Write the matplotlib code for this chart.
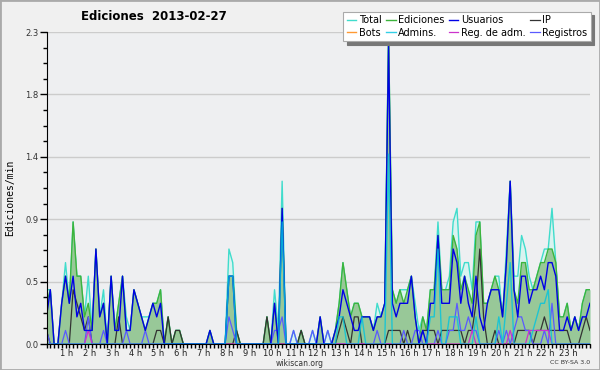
import matplotlib
matplotlib.use('Agg')
import matplotlib.pyplot as plt
import numpy as np
from matplotlib.ticker import MultipleLocator
from matplotlib.transforms import ScaledTranslation
from matplotlib.patches import Rectangle

# edits per minute, 10-minute bins (144 per day)
total = [.4,.4,0,0,.3,.6,.3,.9,.5,.5,.2,.5,
         .1,.7,.2,.4,0,.5,.1,.3,.5,.2,.1,.4,
         .3,.2,.2,.2,.3,.3,.4,0,.2,0,.1,.1,
         0,0,0,0,0,0,0,.1,0,0,0,0,
         .7,.6,.1,0,0,0,0,0,0,0,.2,0,
         .4,.1,1.2,0,0,.1,0,.1,0,0,.1,0,
         .2,0,.1,0,.1,.3,.6,.4,.2,.3,.3,.2,
         .2,.2,.1,.3,.2,.3,2.3,.4,.3,.4,.4,.4,
         .5,.3,.1,.2,.1,.4,.4,.9,.4,.4,.5,.9,
         1.0,.5,.6,.6,.4,.9,.9,.3,.3,.4,.5,.5,
         .2,.7,1.2,.5,.5,.8,.7,.5,.4,.5,.6,.7,
         .7,1.0,.6,.2,.2,.3,.1,.2,.1,.3,.4,.4]
ediciones = [.3,.4,0,0,.3,.5,.3,.9,.5,.5,.2,.3,
             .1,.7,.2,.3,0,.5,.1,.3,.5,.1,.1,.4,
             .3,.2,.1,.2,.3,.3,.4,0,.2,0,.1,.1,
             0,0,0,0,0,0,0,.1,0,0,0,0,
             .5,.5,.1,0,0,0,0,0,0,0,.2,0,
             .3,0,1.0,0,0,0,0,.1,0,0,0,0,
             .2,0,0,0,.1,.3,.6,.4,.2,.3,.3,.2,
             .2,.2,.1,.2,.2,.3,2.3,.4,.3,.4,.3,.4,
             .5,.2,0,.2,.1,.4,.4,.8,.4,.4,.4,.8,
             .7,.4,.5,.4,.3,.8,.9,.3,.3,.4,.5,.4,
             .2,.6,1.2,.4,.3,.6,.6,.4,.4,.5,.6,.6,
             .7,.7,.6,.2,.2,.3,.1,.2,.1,.3,.4,.4]
usuarios = [.2,.4,0,0,.3,.5,.3,.5,.2,.3,.1,.1,
            .1,.7,.2,.3,0,.5,.1,.1,.5,.1,.1,.4,
            .3,.2,.1,.2,.3,.2,.3,0,0,0,0,0,
            0,0,0,0,0,0,0,.1,0,0,0,0,
            .5,.5,0,0,0,0,0,0,0,0,0,0,
            .3,0,1.0,0,0,0,0,0,0,0,0,0,
            .2,0,0,0,.1,.2,.4,.3,.2,.1,.1,.2,
            .2,.2,.1,.2,.2,.3,2.2,.3,.2,.3,.3,.3,
            .5,.2,0,.1,0,.3,.3,.8,.3,.3,.3,.7,
            .6,.3,.5,.3,.2,.5,.2,.1,.3,.4,.4,.4,
            .2,.6,1.2,.4,.2,.5,.5,.3,.4,.4,.5,.4,
            .6,.6,.5,.1,.1,.2,.1,.2,.1,.2,.2,.3]
ip = [.1,0,0,0,0,0,0,.4,.3,.2,.1,.2,
      0,0,0,0,0,0,0,.2,0,0,0,0,
      0,0,0,0,0,.1,.1,0,.2,0,.1,.1,
      0,0,0,0,0,0,0,0,0,0,0,0,
      0,0,.1,0,0,0,0,0,0,0,.2,0,
      0,0,0,0,0,0,0,.1,0,0,0,0,
      0,0,0,0,0,.1,.2,.1,0,.2,.2,0,
      0,0,0,0,0,0,.1,.1,.1,.1,0,.1,
      0,0,0,.1,.1,.1,.1,0,.1,.1,.1,.1,
      .1,.1,0,.1,.1,.3,.7,.2,0,0,.1,0,
      0,0,0,0,.1,.1,.1,.1,0,.1,.1,.2,
      .1,.1,.1,.1,.1,.1,0,0,0,.1,.2,.1]
bots = [0]*144
admins = [0,0,0,0,0,0,0,0,0,0,0,0,
          0,0,0,0,0,0,0,0,0,0,0,0,
          0,0,0,0,0,0,0,0,0,0,0,0,
          0,0,0,0,0,0,0,0,0,0,0,0,
          .5,.5,0,0,0,0,0,0,0,0,0,0,
          0,0,.9,0,0,0,0,0,0,0,0,0,
          0,0,0,0,0,.2,.2,0,0,0,0,.2,
          0,0,0,0,0,0,1.4,0,0,0,0,0,
          0,0,0,0,0,.2,.2,.7,0,0,.2,.2,
          .2,0,0,0,0,.2,0,0,0,0,0,.2,
          0,.3,.6,0,0,0,0,0,.1,.2,.3,.3,
          .4,0,0,0,0,0,0,0,0,0,0,0]
reg_adm = [0,0,0,0,0,0,0,0,0,0,0,.1,
           0,0,0,0,0,0,0,0,0,0,0,0,
           0,0,0,0,0,0,0,0,0,0,0,0,
           0,0,0,0,0,0,0,0,0,0,0,0,
           0,0,0,0,0,0,0,0,0,0,0,0,
           0,0,0,0,0,0,0,0,0,0,0,0,
           0,0,0,0,0,0,0,0,0,0,0,0,
           0,0,0,0,0,0,0,0,0,0,0,0,
           0,0,0,0,0,0,0,0,0,0,0,0,
           0,0,0,0,.1,0,0,0,0,0,0,0,
           0,0,.1,0,0,0,0,.1,.1,.1,.1,.1,
           .1,0,0,0,0,0,0,0,0,0,0,0]
registros = [.1,0,0,0,0,.1,0,0,0,0,0,.2,
             0,0,0,.1,0,0,0,0,0,.1,0,0,
             0,0,.1,0,0,0,0,0,0,0,0,0,
             0,0,0,0,0,0,0,0,0,0,0,0,
             .2,.1,0,0,0,0,0,0,0,0,0,0,
             .1,.1,.2,0,0,.1,0,0,0,0,.1,0,
             0,0,.1,0,0,0,0,0,0,0,0,0,
             0,0,0,.1,0,0,0,0,0,0,.1,0,
             0,.1,.1,0,0,0,0,.1,0,0,.1,.1,
             .3,.1,.1,.2,.1,.1,0,0,0,0,0,.1,
             0,.1,0,.1,.2,.2,.1,.1,0,0,0,.1,
             0,.3,0,0,0,0,0,0,0,0,0,0]

hours = list(range(1, 24))
hour_labels = [f"{h} h" for h in hours]
ytick_vals = [0, 0.46, 0.92, 1.38, 1.84, 2.3]
ytick_labels = ["0.0", "0.5", "0.9", "1.4", "1.8", "2.3"]

W, H = 600, 370
fig = plt.figure(figsize=(6, 3.7), dpi=100, facecolor='#f0f0f0')
ax = fig.add_axes([46.5 / W, 26 / H, (590 - 46.5) / W, 312 / H])
ax.set_facecolor('#eeeff1')

x = np.arange(len(total)) / 6.0  # hours

ax.fill_between(x, total, color='#d9f3f0', lw=0, zorder=1)
ax.plot(x, bots, color='#ff9933', lw=1.0, label='Bots', zorder=0.5)
ax.plot(x, total, color='#40dccc', lw=1.0, label='Total', zorder=2)
ax.fill_between(x, ediciones, color='#98c898', lw=0, zorder=3)
ax.plot(x, ediciones, color='#3cb43c', lw=1.0, label='Ediciones', zorder=4)
ax.plot(x, ip, color='#333333', lw=0.9, label='IP', zorder=5)
ax.plot(x, registros, color='#5a5aff', lw=0.9, label='Registros', zorder=5)
ax.plot(x, reg_adm, color='#cc33cc', lw=0.9, label='Reg. de adm.', zorder=5)
ax.plot(x, usuarios, color='#0000e6', lw=1.0, label='Usuarios', zorder=6)
ax.plot(x, admins, color='#00c4e0', lw=1.0, alpha=0.8, label='Admins.', zorder=7)

ax.set_xlim(0, (len(total) - 1) / 6.0)
ax.set_ylim(0, 2.3)

for s in ['top', 'right']:
    ax.spines[s].set_visible(False)
ax.spines['left'].set_zorder(10)
ax.spines['bottom'].set_zorder(10)

ax.set_yticks(ytick_vals)
ax.set_yticklabels(ytick_labels, fontsize=6, color='#333333')
ax.yaxis.set_minor_locator(MultipleLocator(0.115))
ax.tick_params(axis='y', which='major', length=5, width=1, pad=1)
ax.tick_params(axis='y', which='minor', length=3, width=1)
ax.grid(axis='y', which='major', color='#cccccc', lw=1, zorder=0)
ax.set_axisbelow(True)

ax.set_xticks(hours)
ax.set_xticklabels(hour_labels, fontsize=6, color='#222222')
ax.xaxis.set_minor_locator(MultipleLocator(1 / 6.0))
ax.tick_params(axis='x', which='both', length=3, width=1, pad=0.5)
off = ScaledTranslation(-2.5 / 100, 0, fig.dpi_scale_trans)
for lab in ax.get_xticklabels():
    lab.set_transform(lab.get_transform() + off)

ax.set_ylabel('Ediciones/min', fontsize=7, family='DejaVu Sans Mono')
ax.yaxis.set_label_coords(-0.058, 0.47)

fig.text(154 / W, 1 - 16 / H, 'Ediciones  2013-02-27', fontsize=8.5, fontweight='bold',
         ha='center', va='center')
fig.text(300 / W, 1 - 363 / H, 'wikiscan.org', fontsize=5.5, ha='center', va='center', color='#333333')
fig.text(590 / W, 1 - 363 / H, 'CC BY-SA 3.0', fontsize=4.5, ha='right', va='center', color='#333333')

handles, labels = ax.get_legend_handles_labels()
hmap = dict(zip(labels, handles))
order = ['Total', 'Bots', 'Ediciones', 'Admins.', 'Usuarios', 'Reg. de adm.', 'IP', 'Registros']
leg = fig.legend([hmap[o] for o in order], order, ncol=4, loc='upper right',
                 bbox_to_anchor=(591 / W, 1 - 12 / H), fontsize=7, frameon=True,
                 fancybox=False, edgecolor='#aaaaaa', framealpha=1,
                 shadow={'ox': 2.5, 'oy': -2.5, 'color': '#777777', 'alpha': 1},
                 handlelength=1.0, handletextpad=0.3, columnspacing=0.4,
                 labelspacing=0.25, borderpad=0.35, borderaxespad=0)
leg.get_frame().set_linewidth(0.8)

fig.patches.append(Rectangle((0, 0), 1, 1, transform=fig.transFigure, fill=False,
                             edgecolor='#aaaaaa', lw=2))

fig.savefig('out.png', dpi=100, facecolor=fig.get_facecolor())
